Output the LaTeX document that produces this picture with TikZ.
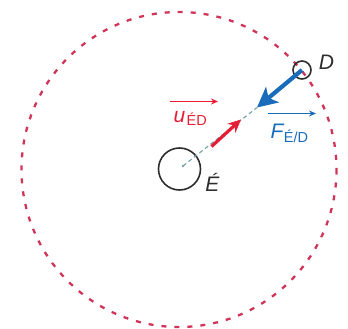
\documentclass[tikz,border=0pt]{standalone}
\usepackage{fontspec}
\setmainfont{Liberation Sans}
\usetikzlibrary{arrows.meta}
\definecolor{orbitred}{RGB}{208,52,88}
\definecolor{vecred}{RGB}{228,30,52}
\definecolor{vecblue}{RGB}{24,108,186}
\definecolor{axisgray}{RGB}{120,165,170}
\definecolor{bodyline}{RGB}{45,45,45}
\tikzset{
  orbit/.style={draw=orbitred, line width=2.3pt, dash pattern=on 5pt off 8pt},
  body/.style={circle, draw=bodyline, line width=1.6pt, inner sep=0pt},
  lbl/.style={font=\fontsize{21}{24}\selectfont\itshape, text=bodyline, inner sep=0pt},
  sublbl/.style={font=\fontsize{14.5}{16}\selectfont, inner sep=0pt, anchor=base west},
  overarrow/.style={line width=1.8pt, -{Stealth[length=7pt,width=6pt]}},
  axisline/.style={draw=axisgray, line width=1.2pt, dash pattern=on 4pt off 3pt}
}
\begin{document}
\begin{tikzpicture}[x=1pt,y=-1pt]
\useasboundingbox (0,0) rectangle (348,329);
% orbit
\coordinate (O) at (179,169.5);
\draw[orbit] (O) circle[radius=157.5];
% bodies
\node[body, minimum size=42pt] (E) at (179.5,169) {};
\coordinate (Edot) at (183,166);
\fill[axisgray!80!black] (Edot) circle[radius=1.1pt];
\node[body, minimum size=18pt] (D) at (302,70) {};
% axis and vectors
\coordinate (ustart) at (211.5,146.5);
\coordinate (utip) at (241,119.5);
\coordinate (Ftip) at (257,107.5);
\draw[axisline] (Edot) -- (Ftip);
\draw[vecred, line width=3.2pt, -{Stealth[length=13pt,width=12pt]}] (ustart) -- (utip);
\draw[vecblue, line width=4.2pt, -{Stealth[length=20pt,width=20pt,inset=5pt]}] (D.center) -- (Ftip);
% labels
\node[lbl, anchor=center] (Dlabel) at (326.5,62.5) {D};
\node[lbl, anchor=base] (Elabel) at (212.5,191.5) {É};
\node[lbl, text=vecred, anchor=base west] (u) at (173.5,122.5) {u};
\node[sublbl, text=vecred] (usub) at ([yshift=-3pt]u.base east) {\kern0.8ptÉD};
\coordinate (ua1) at (170,101.5);
\coordinate (ua2) at (218,101.5);
\draw[overarrow, vecred] (ua1) -- (ua2);
\node[lbl, text=vecblue, anchor=base west] (F) at (270.5,138.5) {F};
\node[sublbl, text=vecblue] (Fsub) at ([yshift=-4pt]F.base east) {É/D};
\coordinate (Fa1) at (268,113.5);
\coordinate (Fa2) at (316,113.5);
\draw[overarrow, vecblue] (Fa1) -- (Fa2);
\end{tikzpicture}
\end{document}
